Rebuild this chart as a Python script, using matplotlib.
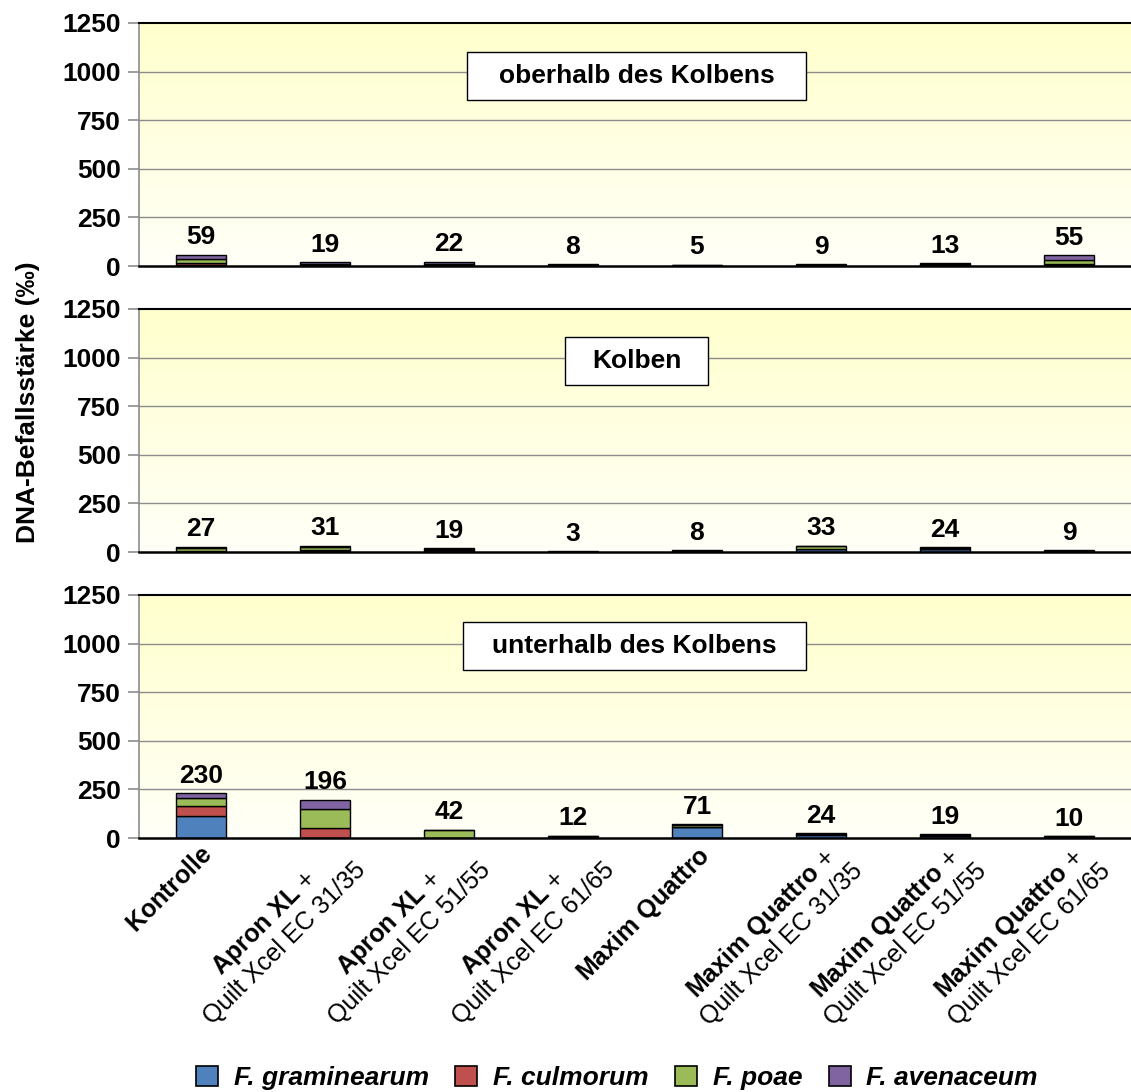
import matplotlib
matplotlib.use('Agg')
import matplotlib.pyplot as plt
import numpy as np
from matplotlib.patches import Rectangle, Patch

plt.rcParams['font.family'] = ['Liberation Sans', 'DejaVu Sans']
plt.rcParams['mathtext.fontset'] = 'custom'
plt.rcParams['mathtext.rm'] = 'Liberation Sans'
plt.rcParams['mathtext.bf'] = 'Liberation Sans:bold'

# ---------------- data ----------------
labels_bold = ['Kontrolle', 'Apron XL', 'Apron XL', 'Apron XL',
               'Maxim Quattro', 'Maxim Quattro', 'Maxim Quattro', 'Maxim Quattro']
labels_sub = ['', 'Quilt Xcel EC 31/35', 'Quilt Xcel EC 51/55', 'Quilt Xcel EC 61/65',
              '', 'Quilt Xcel EC 31/35', 'Quilt Xcel EC 51/55', 'Quilt Xcel EC 61/65']
species = ['F. graminearum', 'F. culmorum', 'F. poae', 'F. avenaceum']
colors = ['#4F81BD', '#C0504D', '#9BBB59', '#8064A2']
panel_titles = ['oberhalb des Kolbens', 'Kolben', 'unterhalb des Kolbens']
yticks = [0, 250, 500, 750, 1000, 1250]

ober_gram = [3, 3, 4, 2, 1, 3, 4, 6]
ober_culm = [10, 3, 4, 2, 1, 2, 3, 3]
ober_poae = [22, 3, 4, 2, 2, 2, 3, 24]
ober_aven = [24, 10, 10, 2, 1, 2, 3, 22]

kolben_gram = [5, 6, 6, 1, 3, 15, 16, 3]
kolben_culm = [2, 3, 4, 0, 2, 3, 2, 2]
kolben_poae = [15, 17, 5, 1, 2, 12, 3, 2]
kolben_aven = [5, 5, 4, 1, 1, 3, 3, 2]

unter_gram = [112, 2, 0, 3, 55, 18, 12, 4]
unter_culm = [52, 52, 1, 2, 3, 1, 2, 2]
unter_poae = [44, 95, 39, 4, 8, 3, 3, 2]
unter_aven = [22, 47, 2, 3, 5, 2, 2, 2]

panels = [
    [ober_gram, ober_culm, ober_poae, ober_aven],
    [kolben_gram, kolben_culm, kolben_poae, kolben_aven],
    [unter_gram, unter_culm, unter_poae, unter_aven],
]

# ---------------- figure ----------------
W, H = 1131, 1092
fig = plt.figure(figsize=(W / 100, H / 100), dpi=100)

left = 139 / W
width = (W - 139) / W
ph = 243 / H
bottoms = [1 - 266 / H, 1 - 552 / H, 1 - 838 / H]
box_x = [(0.3306, 0.6724), (0.4294, 0.5736), (0.3266, 0.6724)]
box_y = [(0.683, 0.881), (0.687, 0.885), (0.691, 0.889)]

grad = np.linspace(0, 1, 256).reshape(-1, 1)
top_c = np.array([255, 255, 205]) / 255
bot_c = np.array([255, 255, 248]) / 255
img = top_c[None, None, :] * (1 - grad[..., None]) + bot_c[None, None, :] * grad[..., None]

x = np.arange(len(labels_bold))
fs = 19
fs_x = 18

axes = []
for p, (data, title) in enumerate(zip(panels, panel_titles)):
    ax = fig.add_axes([left, bottoms[p], width, ph])
    axes.append(ax)
    ax.imshow(img, extent=[0, 1, 0, 1], transform=ax.transAxes, aspect='auto', zorder=0)
    ax.set_xlim(-0.5, len(x) - 0.5)
    ax.set_ylim(0, 1250)
    ax.set_yticks(yticks)
    ax.set_yticklabels([str(t) for t in yticks], fontsize=fs, fontweight='bold')
    for t in yticks[1:-1]:
        ax.axhline(t, color='#8C8C8C', lw=1.0, zorder=1)
    ax.tick_params(axis='y', direction='out', length=8, color='#8C8C8C', width=1.2, pad=5)
    ax.spines['left'].set_color('#8C8C8C')
    ax.spines['left'].set_linewidth(1.2)
    ax.spines['right'].set_visible(False)
    ax.spines['top'].set_color('black')
    ax.spines['top'].set_linewidth(1.5)
    ax.spines['bottom'].set_color('black')
    ax.spines['bottom'].set_linewidth(1.8)
    ax.spines['bottom'].set_zorder(5)

    bottom = np.zeros(len(x))
    for vals, col in zip(data, colors):
        ax.bar(x, vals, 0.4, bottom=bottom, color=col, edgecolor='black', linewidth=1.0, zorder=3)
        bottom = bottom + np.array(vals)
    for xi, tot in zip(x, bottom):
        ax.annotate(str(int(tot)), (xi, tot), xytext=(0, 4), textcoords='offset points',
                    ha='center', va='bottom', fontsize=fs, fontweight='bold', zorder=6)

    bx0, bx1 = box_x[p]
    by0, by1 = box_y[p]
    ax.add_patch(Rectangle((bx0, by0), bx1 - bx0, by1 - by0, transform=ax.transAxes,
                           facecolor='white', edgecolor='black', lw=1.0, zorder=4))
    ax.text((bx0 + bx1) / 2, (by0 + by1) / 2, title, transform=ax.transAxes,
            ha='center', va='center', fontsize=fs, fontweight='bold', zorder=5)

    ax.set_xticks(x)
    ax.set_xticklabels([])
    ax.tick_params(axis='x', length=0)

# x labels on bottom panel
ax = axes[-1]
for xi, b, s in zip(x, labels_bold, labels_sub):
    bt = r'$\mathbf{' + b.replace(' ', r'\ ') + '}$'
    if s:
        txt, off = bt + ' +\n' + s, (5.5, 1.0)
    else:
        txt, off = bt, (0, -3)
    ax.annotate(txt, xy=(xi, 0), xycoords=('data', 'axes fraction'), xytext=off,
                textcoords='offset points', rotation=45, rotation_mode='anchor',
                ha='right', va='top', multialignment='center', fontsize=fs_x,
                linespacing=1.15, annotation_clip=False)

fig.text(0.025, 1 - 402 / H, 'DNA-Befallsstärke (‰)', rotation=90, ha='center', va='center',
         fontsize=fs, fontweight='bold')

handles = [Patch(facecolor=c, edgecolor='black', lw=1.2) for c in colors]
fig.legend(handles, species, loc='center', bbox_to_anchor=(617 / W, 1 - 1078 / H), ncol=4,
           frameon=False, prop={'size': fs, 'weight': 'bold', 'style': 'italic'},
           handlelength=0.83, handleheight=0.83, handletextpad=0.6, columnspacing=1.0)

fig.savefig('out.png', dpi=100)
